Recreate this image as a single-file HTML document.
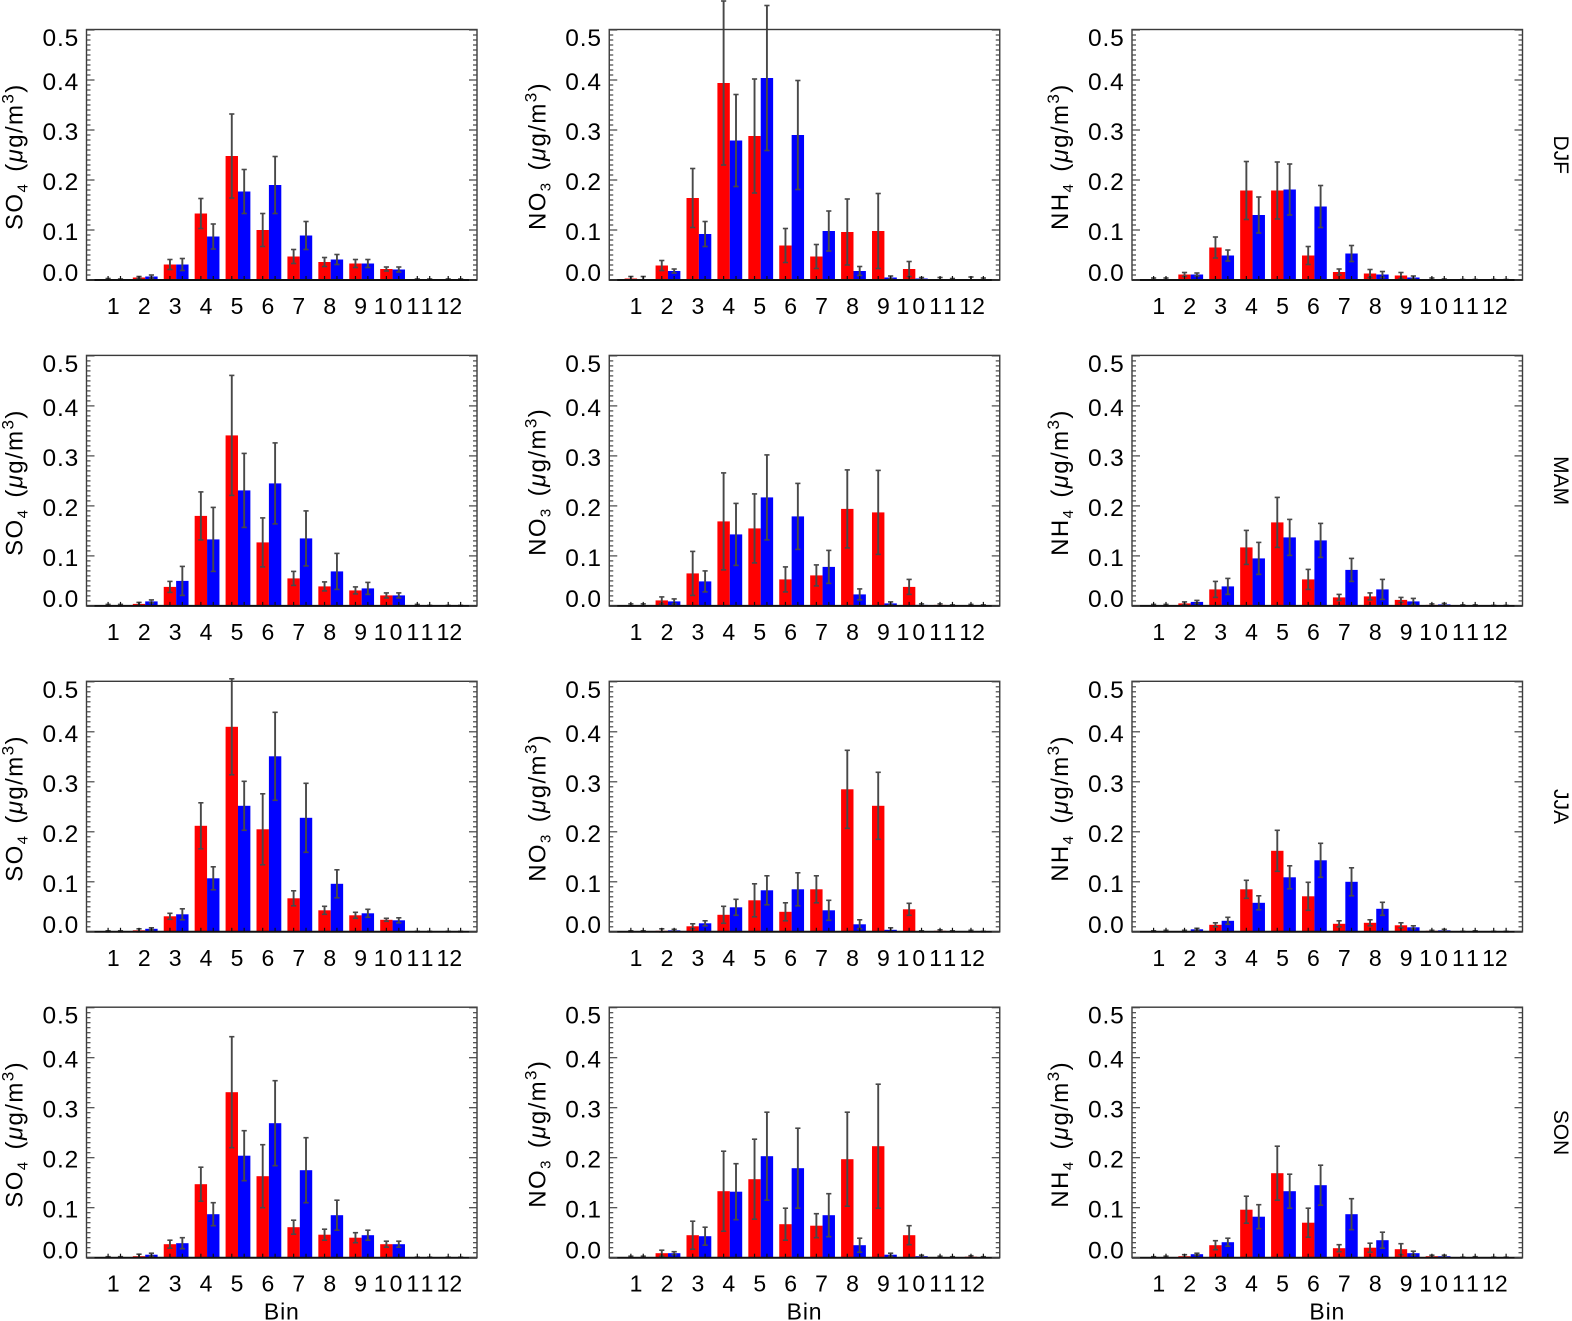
<!DOCTYPE html>
<html lang="en">
<head>
<meta charset="utf-8">
<title>Seasonal aerosol mass by size bin</title>
<style>
html,body{margin:0;padding:0;background:#fff;}
svg{display:block;font-family:"Liberation Sans",sans-serif;fill:#000;}
</style>
</head>
<body>
<svg id="chart" xmlns="http://www.w3.org/2000/svg" width="1572" height="1321" viewBox="0 0 1572 1321"></svg>
<script>
var binLabels = ['1','2','3','4','5','6','7','8','9','10','11','12'];
var yTickLabels = ['0.0','0.1','0.2','0.3','0.4','0.5'];
var yTickValues = [0,0.1,0.2,0.3,0.4,0.5];
var seasons = ['DJF','MAM','JJA','SON'];
var species = ['SO','NO','NH'];
var speciesSub = ['4','3','4'];

var so4DjfRed = [0,.005,.031,.133,.248,.100,.047,.036,.033,.022,0,0];
var so4DjfRedErr = [.003,.002,.010,.030,.084,.033,.014,.009,.008,.004,.002,.002];
var so4DjfBlue = [0,.007,.031,.087,.177,.190,.089,.041,.033,.021,0,0];
var so4DjfBlueErr = [.002,.003,.012,.025,.044,.057,.028,.010,.008,.005,.002,.002];

var no3DjfRed = [.003,.029,.164,.394,.288,.069,.047,.096,.098,.022,.001,.001];
var no3DjfRedErr = [.004,.010,.059,.164,.114,.034,.024,.066,.075,.015,.004,.005];
var no3DjfBlue = [.001,.018,.092,.279,.404,.290,.098,.018,.005,.003,.001,.001];
var no3DjfBlueErr = [.006,.004,.025,.092,.145,.109,.040,.009,.003,.002,.002,.003];

var nh4DjfRed = [.001,.011,.065,.179,.179,.049,.016,.013,.009,.002,0,0];
var nh4DjfRedErr = [.003,.004,.021,.058,.057,.018,.006,.008,.006,.002,.001,.001];
var nh4DjfBlue = [.001,.011,.049,.130,.181,.147,.053,.011,.005,.001,0,0];
var nh4DjfBlueErr = [.003,.003,.011,.036,.051,.042,.016,.006,.003,.001,.001,.001];

var so4MamRed = [.001,.004,.038,.180,.341,.127,.055,.039,.031,.021,.001,0];
var so4MamRedErr = [.002,.003,.011,.048,.120,.049,.014,.009,.007,.005,.002,.001];
var so4MamBlue = [.001,.009,.050,.133,.231,.245,.135,.069,.035,.021,0,0];
var so4MamBlueErr = [.002,.003,.029,.064,.074,.081,.055,.036,.012,.005,.001,.001];

var no3MamRed = [.001,.011,.065,.169,.155,.053,.061,.194,.187,.038,.002,.001];
var no3MamRedErr = [.003,.007,.044,.097,.069,.025,.021,.078,.084,.015,.002,.002];
var no3MamBlue = [.001,.009,.049,.143,.217,.179,.078,.023,.005,.002,.001,.001];
var no3MamBlueErr = [.003,.005,.021,.062,.085,.066,.033,.011,.003,.002,.001,.001];

var nh4MamRed = [.001,.005,.033,.117,.167,.053,.017,.019,.012,.002,.001,0];
var nh4MamRedErr = [.002,.003,.016,.034,.050,.020,.006,.007,.005,.002,.001,.001];
var nh4MamBlue = [.001,.008,.039,.095,.137,.131,.072,.033,.009,.003,.001,0];
var nh4MamBlueErr = [.002,.003,.016,.032,.036,.034,.023,.020,.006,.002,.001,.001];

var so4JjaRed = [0,.003,.031,.212,.410,.205,.067,.043,.033,.024,0,0];
var so4JjaRedErr = [.002,.003,.006,.046,.096,.071,.015,.008,.006,.003,.001,.001];
var so4JjaBlue = [0,.006,.035,.107,.252,.351,.228,.096,.037,.023,0,0];
var so4JjaBlueErr = [.002,.002,.011,.023,.049,.088,.069,.028,.008,.005,.001,.001];

var no3JjaRed = [0,.002,.011,.034,.063,.040,.085,.285,.252,.045,.002,.001];
var no3JjaRedErr = [.002,.004,.005,.017,.033,.018,.027,.078,.067,.012,.002,.002];
var no3JjaBlue = [0,.003,.017,.049,.083,.085,.043,.015,.004,.001,.001,0];
var no3JjaBlueErr = [.002,.002,.005,.016,.029,.033,.020,.009,.004,.001,.001,.001];

var nh4JjaRed = [0,.001,.014,.085,.162,.071,.016,.018,.013,.002,0,0];
var nh4JjaRedErr = [.002,.002,.004,.018,.041,.028,.006,.006,.005,.001,.001,.001];
var nh4JjaBlue = [.001,.005,.022,.058,.109,.143,.100,.046,.009,.003,.001,0];
var nh4JjaBlueErr = [.002,.002,.007,.014,.023,.034,.028,.013,.003,.002,.001,.001];

var so4SonRed = [0,.003,.027,.147,.331,.163,.061,.046,.040,.027,0,0];
var so4SonRedErr = [.002,.004,.008,.034,.111,.063,.014,.011,.010,.006,.001,.001];
var so4SonBlue = [0,.006,.029,.087,.204,.269,.175,.085,.045,.027,0,0];
var so4SonBlueErr = [.002,.003,.011,.023,.050,.085,.065,.030,.010,.006,.001,.001];

var no3SonRed = [.001,.009,.045,.133,.157,.067,.064,.197,.223,.045,.001,.002];
var no3SonRedErr = [.002,.006,.028,.080,.080,.032,.024,.094,.124,.019,.002,.002];
var no3SonBlue = [.001,.009,.043,.132,.203,.179,.085,.025,.006,.003,.001,.001];
var no3SonBlueErr = [.002,.003,.018,.056,.088,.080,.043,.014,.003,.002,.001,.001];

var nh4SonRed = [0,.003,.025,.096,.169,.070,.019,.020,.017,.003,0,0];
var nh4SonRedErr = [.002,.003,.009,.027,.054,.029,.007,.009,.011,.002,.001,.001];
var nh4SonBlue = [.001,.007,.031,.082,.133,.145,.087,.035,.009,.003,.001,0];
var nh4SonBlueErr = [.002,.002,.008,.024,.034,.040,.031,.016,.004,.002,.001,.001];

var panelRed = [[so4DjfRed,no3DjfRed,nh4DjfRed],[so4MamRed,no3MamRed,nh4MamRed],[so4JjaRed,no3JjaRed,nh4JjaRed],[so4SonRed,no3SonRed,nh4SonRed]];
var panelRedErr = [[so4DjfRedErr,no3DjfRedErr,nh4DjfRedErr],[so4MamRedErr,no3MamRedErr,nh4MamRedErr],[so4JjaRedErr,no3JjaRedErr,nh4JjaRedErr],[so4SonRedErr,no3SonRedErr,nh4SonRedErr]];
var panelBlue = [[so4DjfBlue,no3DjfBlue,nh4DjfBlue],[so4MamBlue,no3MamBlue,nh4MamBlue],[so4JjaBlue,no3JjaBlue,nh4JjaBlue],[so4SonBlue,no3SonBlue,nh4SonBlue]];
var panelBlueErr = [[so4DjfBlueErr,no3DjfBlueErr,nh4DjfBlueErr],[so4MamBlueErr,no3MamBlueErr,nh4MamBlueErr],[so4JjaBlueErr,no3JjaBlueErr,nh4JjaBlueErr],[so4SonBlueErr,no3SonBlueErr,nh4SonBlueErr]];

var NS = 'http://www.w3.org/2000/svg';
var svg = document.getElementById('chart');
var plotW = 390.5, plotH = 250.5, colStep = 522.75, rowStep = 325.9;
var left0 = 86.5, top0 = 29.5;
var binStep = 30.92, binOffset = 27.8, barW = 12.4, yScale = 500;

function make(parent, tag, attrs, text) {
  var el = document.createElementNS(NS, tag);
  for (var k in attrs) { el.setAttribute(k, attrs[k]); }
  if (text !== undefined) { el.textContent = text; }
  parent.appendChild(el);
  return el;
}
function line(parent, x1, y1, x2, y2, color, width) {
  return make(parent, 'line', {x1:x1, y1:y1, x2:x2, y2:y2, stroke:color, 'stroke-width':width});
}
function xAxis(left, bin) { return left + binOffset + binStep * bin; }
function yAxis(base, value) { return base - value * yScale; }
function labelShift(i) { return i === 0 ? 1 : (i === yTickValues.length - 1 ? 16 : 10); }

function drawBar(group, left, base, bin, value, err, color, side, seriesName) {
  var cx = xAxis(left, bin);
  var x = side < 0 ? cx - barW : cx;
  var top = yAxis(base, value);
  var bar = make(group, 'rect', {x:x, y:top, width:barW, height:Math.max(0, base - top), fill:color});
  
  
  var ex = x + barW / 2;
  var hi = yAxis(base, value + err);
  var lo = Math.min(base, yAxis(base, value - err));
  var eg = make(group, 'g', {});
  
  
  line(eg, ex, hi, ex, lo, '#484848', 1.9);
  line(eg, ex - 2.6, hi, ex + 2.6, hi, '#484848', 1.6);
  line(eg, ex - 2.6, lo, ex + 2.6, lo, '#484848', 1.6);
}

function drawPanel(r, c) {
  var left = left0 + c * colStep;
  var top = top0 + r * rowStep;
  var base = top + plotH;
  var right = left + plotW;
  var g = make(svg, 'g', {});
  
  

  var bars = make(g, 'g', {});
  
  
  var reds = panelRed[r][c], redErr = panelRedErr[r][c], blues = panelBlue[r][c], blueErr = panelBlueErr[r][c];
  for (var i = 0; i < binLabels.length; i++) {
    drawBar(bars, left, base, i, reds[i], redErr[i], '#ff0000', -1, 'red-bin-' + binLabels[i]);
    drawBar(bars, left, base, i, blues[i], blueErr[i], '#0000ff', 1, 'blue-bin-' + binLabels[i]);
  }

  var frame = make(g, 'rect', {x:left, y:top, width:plotW, height:plotH, fill:'none', stroke:'#3a3a3a', 'stroke-width':1.4});
  
  
  var xLine = line(g, left, base, right, base, '#111', 2);
  
  

  var yt = make(g, 'g', {});
  
  
  for (var m = 0; m <= 50; m++) {
    var v = m / 100, y = yAxis(base, v), len = m % 10 === 0 ? 8 : 4;
    line(yt, left, y, left + len, y, '#444', 1.2);
    line(yt, right, y, right - len, y, '#444', 1.2);
  }

  var xt = make(g, 'g', {});
  
  
  for (var b = 0; b < binLabels.length; b++) {
    var cx = xAxis(left, b);
    line(xt, cx - barW / 2, base, cx - barW / 2, base - 4, '#111', 1.2);
    line(xt, cx + barW / 2, base, cx + barW / 2, base - 4, '#111', 1.2);
    var wide = b === 9 || b === 10;
    var xl = make(g, 'text', {x:cx - (b === 11 ? 5 : (b === 9 ? 3 : (b === 10 ? 2 : 1))), y:base + 34, 'text-anchor':'middle', 'font-size':23, 'letter-spacing':wide ? 3 : 0}, binLabels[b]);
    
    
  }

  for (var t = 0; t < yTickValues.length; t++) {
    var yl = make(g, 'text', {x:left - 7.5, y:yAxis(base, yTickValues[t]) + labelShift(t), 'text-anchor':'end', 'font-size':24.5, 'letter-spacing':0.8}, yTickLabels[t]);
    
    
  }

  var tx = left - 64, ty = base - 50;
  var title = make(g, 'text', {transform:'translate(' + tx + ',' + ty + ') rotate(-90)', 'font-size':24, 'letter-spacing':1.4});
  
  
  make(title, 'tspan', {}, species[c]);
  make(title, 'tspan', {dy:5, 'font-size':15}, speciesSub[c]);
  make(title, 'tspan', {dy:-5, dx:11}, '(');
  make(title, 'tspan', {'font-style':'italic'}, '\u03BC');
  make(title, 'tspan', {}, 'g/m');
  make(title, 'tspan', {dy:-9, 'font-size':17}, '3');
  make(title, 'tspan', {dy:9}, ')');

  if (r === seasons.length - 1) {
    var bin = make(g, 'text', {x:left + plotW / 2, y:base + 62, 'text-anchor':'middle', 'font-size':23, 'letter-spacing':0.8}, 'Bin');
    
    
  }
  if (c === species.length - 1) {
    var sx = 1554, sy = top + plotH / 2;
    var season = make(g, 'text', {transform:'translate(' + sx + ',' + sy + ') rotate(90)', 'text-anchor':'middle', 'font-size':21}, seasons[r]);
    
    
  }
}

for (var r = 0; r < seasons.length; r++) {
  for (var c = 0; c < species.length; c++) {
    drawPanel(r, c);
  }
}
</script>
</body>
</html>
